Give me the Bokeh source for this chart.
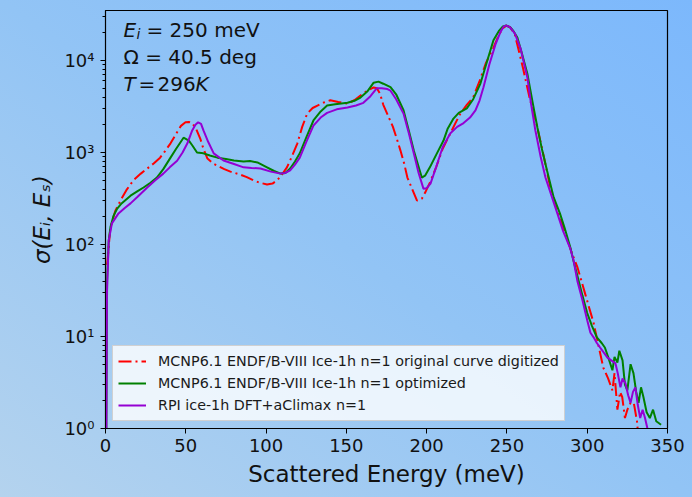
from bokeh.plotting import figure
from bokeh.models import (Range1d, Legend, LegendItem, Label, FixedTicker,
                          CustomJSTickFormatter)
from bokeh.embed import file_html
from bokeh.resources import INLINE

# ---------------- data ----------------
opt_x = [0.5, 1, 2, 3.1, 5, 7.3, 10, 15.6, 20, 23.7, 28, 32, 36, 40.5, 44, 48.6, 51.9, 54, 57, 61,
         65, 69.7, 75, 80, 86, 90, 94.6, 100.6, 105, 109, 112, 115, 118, 121, 125, 129.5, 134, 138,
         143, 150.7, 155, 158.8, 163, 167, 170, 173, 177.5, 181, 185.6, 189, 192, 195, 197, 199, 202,
         206, 210.5, 213, 216.7, 220, 225, 229, 233.5, 237, 241.6, 245, 247.5, 249.7, 252, 254, 256.5,
         259, 262.7, 266, 269, 272, 275, 279, 283, 286, 289.5, 291.4, 294, 297, 300, 303, 306, 309,
         311, 313, 315.7, 317, 318.8, 320, 322, 323.5, 325, 327, 328.8, 330.5, 332, 333.5, 335, 337,
         339, 341, 343, 346]
opt_y = [0.8, 40, 110, 155, 205, 246, 280, 340, 380, 417, 470, 535, 660, 880, 1100, 1450, 1350, 1200,
         1000, 980, 930, 880, 850, 820, 800, 810, 780, 690, 630, 590, 600, 670, 800, 980, 1450, 2230,
         2800, 3240, 3350, 3470, 3650, 3960, 4600, 5750, 5900, 5600, 5130, 4300, 2880, 1700, 1050, 700,
         535, 560, 690, 950, 1350, 1800, 2340, 2700, 3020, 3800, 5620, 9000, 16600, 21000, 23500, 24000,
         23000, 21000, 17800, 12500, 7240, 3500, 1860, 1050, 635, 330, 218, 150, 93, 67, 45, 28, 18, 13,
         9.8, 8.5, 7.6, 6, 4.3, 6, 5.2, 7, 5.5, 3, 2.6, 5, 4, 2.5, 1.9, 2.8, 2.2, 1.5, 1.3, 1.6, 1.2, 1.1]

rpi_x = [0.5, 0.9, 2, 4, 8.1, 12, 15.6, 20, 26, 31, 36, 40, 44.6, 48, 51, 54, 56, 57.7, 59.5, 61, 64,
         67.4, 73.5, 80, 86, 91, 96.5, 103, 109, 112, 115, 118, 121, 125, 129.5, 134, 138, 144, 150.7,
         156, 160.6, 165, 169, 172, 175.6, 177.5, 181, 185.6, 189, 192, 195, 198, 200, 202.4, 206, 210,
         214.8, 219, 223, 227, 230.4, 233, 235.4, 239, 243, 246, 248, 249.7, 252, 255, 258.5, 262.7,
         265, 267.7, 271, 274, 278, 281.4, 285, 289.5, 291.5, 293.9, 297, 300, 302, 304, 306, 308, 310,
         312.6, 315, 317.6, 319, 320.7, 322, 323.8, 325.5, 327, 328.5, 330, 331.5, 333, 334.5, 336,
         337.5, 339]
rpi_y = [0.5, 30, 110, 170, 218, 250, 280, 330, 417, 500, 590, 690, 815, 1000, 1260, 1740, 2000, 2130,
         2050, 1740, 1300, 980, 820, 750, 690, 680, 670, 620, 590, 600, 640, 740, 880, 1300, 1960, 2400,
         2700, 2950, 3090, 3250, 3470, 4100, 5000, 5000, 4900, 4700, 3800, 2650, 1600, 980, 600, 405,
         410, 460, 700, 1150, 1620, 1900, 2090, 2400, 2880, 3700, 5130, 9000, 15200, 20500, 23500,
         24000, 23000, 19600, 13500, 6600, 3400, 1740, 900, 535, 330, 218, 140, 90, 67, 40, 25, 15, 11,
         9.8, 8.5, 7.6, 6.8, 5.9, 5.5, 5.1, 4, 2.8, 3.5, 3.1, 2.3, 1.9, 2.5, 2.8, 1.8, 1.3, 1.6, 1.3,
         1.0, 0.7]

orig_x = [1, 3, 6, 9.3, 13, 17.4, 22, 26, 30, 34, 37, 40.5, 44, 47, 49.8, 52, 54, 56.5, 59, 61, 63.5,
          67, 70.4, 74, 77.8, 84, 88, 92, 96, 100.6, 104, 107, 110, 113, 116, 119.5, 122.5, 125.6, 129,
          132, 136, 140, 145, 150.7, 155, 158.8, 163, 167, 169, 171, 173, 175.6, 179, 181.5, 183.7, 186,
          188, 191, 194, 197, 199.5, 202, 206, 210, 214.8, 218, 221, 225, 229, 233, 237, 241.6, 245,
          247.5, 249.7, 252, 255, 260, 264, 269, 273, 277, 281, 285, 290, 294, 299, 304, 307, 310, 313,
          315.7, 317, 318.8, 320.5, 321.8, 323.5, 325, 327, 329, 331, 332.5]
orig_y = [60, 150, 230, 300, 390, 500, 590, 670, 760, 880, 1030, 1260, 1600, 1950, 2130, 2150, 2090,
          1800, 1420, 1100, 860, 760, 710, 660, 620, 575, 540, 500, 470, 450, 460, 500, 580, 690, 900,
          1260, 1900, 2650, 3050, 3240, 3500, 3700, 3550, 3400, 3700, 4170, 4700, 5100, 5000, 4350,
          3300, 2600, 1900, 1400, 1050, 760, 535, 400, 300, 315, 380, 470, 700, 1100, 1620, 2100, 2650,
          3300, 3980, 6000, 9500, 13800, 19000, 22500, 24000, 23000, 19000, 8300, 4000, 1860, 900, 417,
          250, 153, 85, 56, 28, 14, 8, 4.6, 3.5, 2.6, 4, 1.6, 2.5, 2.2, 1.3, 1.6, 1.9, 1.9, 1.2, 0.6]

series_labels = ["MCNP6.1 ENDF/B-VIII Ice-1h n=1 original curve digitized",
                 "MCNP6.1 ENDF/B-VIII Ice-1h n=1 optimized",
                 "RPI ice-1h DFT+aClimax n=1"]

x_ticks = [0, 50, 100, 150, 200, 250, 300, 350]
y_ticks = [1, 10, 100, 1000, 10000]
y_tick_labels = ["10\u2070", "10\u00b9", "10\u00b2", "10\u00b3", "10\u2074"]
y_minor = [k * d for d in [1, 10, 100, 1000, 10000] for k in range(2, 10)]

FONT = "DejaVu Sans"

# ---------------- figure ----------------
p = figure(width=692, height=497, y_axis_type="log",
           x_range=Range1d(0, 350), y_range=Range1d(1, 35000),
           output_backend="svg", toolbar_location=None,
           min_border_left=105, min_border_right=25, min_border_top=10, min_border_bottom=69,
           background_fill_color=None, border_fill_color=None,
           styles={"background": "linear-gradient(to top right, #b4d3ee 0%, #92c4f5 50%, #7cb8fc 100%)"})
p.grid.visible = False
p.outline_line_color = "black"
p.outline_line_width = 1.2

r_orig = p.line(orig_x, orig_y, line_color="#ff0000", line_width=2, line_dash="13 4 2 4")
r_opt = p.line(opt_x, opt_y, line_color="#008000", line_width=2)
r_rpi = p.line(rpi_x, rpi_y, line_color="#9400d3", line_width=2)

# axes
for ax in (p.xaxis[0], p.yaxis[0]):
    ax.major_label_text_font = FONT
    ax.major_label_text_font_size = "18px"
    ax.major_label_text_color = "#111111"
    ax.axis_label_text_font = FONT
    ax.axis_label_text_font_size = "23px"
    ax.axis_label_text_color = "#111111"
    ax.major_tick_out = 5
    ax.major_tick_in = 0
    ax.minor_tick_out = 3
    ax.minor_tick_in = 0
    ax.axis_line_color = "black"
    ax.major_tick_line_color = "black"
    ax.minor_tick_line_color = "black"

p.xaxis.ticker = FixedTicker(ticks=x_ticks)
p.xaxis.minor_tick_line_color = None
p.xaxis.axis_label = "Scattered Energy (meV)"
p.xaxis.axis_label_text_font_style = "normal"
p.xaxis.major_label_standoff = 5
p.xaxis.axis_label_standoff = 6

p.yaxis.ticker = FixedTicker(ticks=y_ticks, minor_ticks=y_minor)
p.yaxis.formatter = CustomJSTickFormatter(
    args=dict(tick_vals=y_ticks, tick_txt=y_tick_labels),
    code="""
    let best = -1, bd = 1e9;
    for (let i = 0; i < tick_vals.length; i++) {
        const d = Math.abs(Math.log10(tick) - Math.log10(tick_vals[i]));
        if (d < bd) { bd = d; best = i; }
    }
    return bd < 1e-6 ? tick_txt[best] : "";
    """)
p.yaxis.axis_label = "\u03c3(E\u1d62, E\u209b)"
p.yaxis.axis_label_text_font_style = "italic"
p.yaxis.major_label_standoff = 6
p.yaxis.axis_label_standoff = 6

# legend
legend = Legend(items=[LegendItem(label=series_labels[0], renderers=[r_orig]),
                       LegendItem(label=series_labels[1], renderers=[r_opt]),
                       LegendItem(label=series_labels[2], renderers=[r_rpi])],
                location="bottom_left", margin=7, padding=5, spacing=2,
                label_height=20, glyph_height=20, glyph_width=28, label_standoff=12,
                label_text_font=FONT, label_text_font_size="14.3px", label_text_color="#1a1a1a",
                background_fill_color="white", background_fill_alpha=0.8,
                border_line_color="#cccccc", border_line_alpha=0.9)
p.add_layout(legend)

# text annotations (frame-relative screen positions)
def lab(x, y, text, size="20px", style="normal"):
    p.add_layout(Label(x=x, y=y, x_units="screen", y_units="screen", text=text,
                       text_font=FONT, text_font_size=size, text_font_style=style,
                       text_color="#111111", text_baseline="alphabetic", text_align="left"))

lab(18, 399, "E", style="italic")
lab(31, 395, "i", size="14px", style="italic")
lab(41, 399, "= 250 meV")
lab(18, 372, "\u03a9 = 40.5 deg")
lab(18, 345, "T", style="italic")
lab(33, 345, "=")
lab(52, 345, "296")
lab(90, 345, "K", style="italic")

open("out.html", "w").write(file_html(p, INLINE))
